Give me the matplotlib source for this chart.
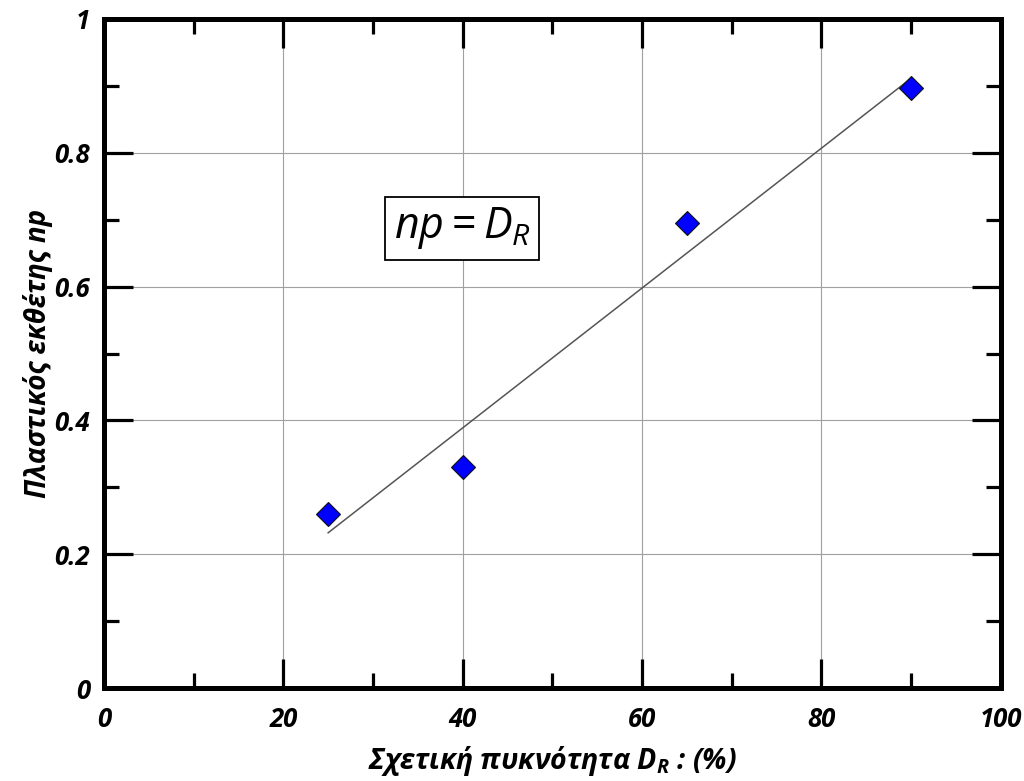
import numpy as np
import matplotlib.pyplot as plt
from matplotlib.ticker import MultipleLocator

# Σχετική πυκνότητα (%) και πλαστικός εκθέτης
dr = [25, 40, 65, 90]
np_vals = [0.26, 0.33, 0.695, 0.897]

xticks = [0, 20, 40, 60, 80, 100]
yticks = [0, 0.2, 0.4, 0.6, 0.8, 1]
ytick_labels = ['0', '0.2', '0.4', '0.6', '0.8', '1']

plt.rcParams['font.family'] = ['Open Sans', 'DejaVu Sans']
plt.rcParams['mathtext.fontset'] = 'custom'
plt.rcParams['mathtext.it'] = 'Open Sans:italic'
plt.rcParams['mathtext.rm'] = 'Open Sans'
plt.rcParams['mathtext.bf'] = 'Open Sans:bold:italic'

fig = plt.figure(figsize=(10.24, 7.81), dpi=100)
ax = fig.add_axes([0.1016, 0.119, 0.8755, 0.8567])

# γραμμική προσαρμογή
a, b = np.polyfit(dr, np_vals, 1)
xf = np.array([min(dr), max(dr)])
ax.plot(xf, a * xf + b, color='#555555', lw=1.1, zorder=2)

ax.plot(dr, np_vals, linestyle='none', marker='D', markersize=12.5,
        markerfacecolor='#0000ff', markeredgecolor='#111111',
        markeredgewidth=0.8, zorder=3)

ax.set_xlim(0, 100)
ax.set_ylim(0, 1)
ax.set_xticks(xticks)
ax.set_yticks(yticks)
ax.set_yticklabels(ytick_labels)
ax.xaxis.set_minor_locator(MultipleLocator(10))
ax.yaxis.set_minor_locator(MultipleLocator(0.1))

ax.grid(True, which='major', color='#a0a0a0', lw=0.8)
ax.set_axisbelow(True)

for s in ax.spines.values():
    s.set_linewidth(3.6)

ax.tick_params(which='major', direction='in', length=21, width=2.3,
               top=True, right=True, labelsize=18.5)
ax.tick_params(which='minor', direction='in', length=11, width=2.3,
               top=True, right=True)
for lab in ax.get_xticklabels() + ax.get_yticklabels():
    lab.set_fontweight('bold')
    lab.set_fontstyle('italic')
ax.tick_params(axis='x', pad=13)
ax.tick_params(axis='y', pad=10)

ax.set_xlabel(r'Σχετική πυκνότητα $\mathbf{D_R}$ : (%)', fontsize=20.5,
              fontweight='bold', fontstyle='italic', labelpad=8)
ax.set_ylabel('Πλαστικός εκθέτης np', fontsize=20,
              fontweight='bold', fontstyle='italic', labelpad=1)

ax.text(32.3, 0.672, r'$np = D_R$', fontsize=31,
        bbox=dict(boxstyle='square,pad=0.2', facecolor='white',
                  edgecolor='black', linewidth=1.3), zorder=4)

fig.savefig('out.png', dpi=100)
